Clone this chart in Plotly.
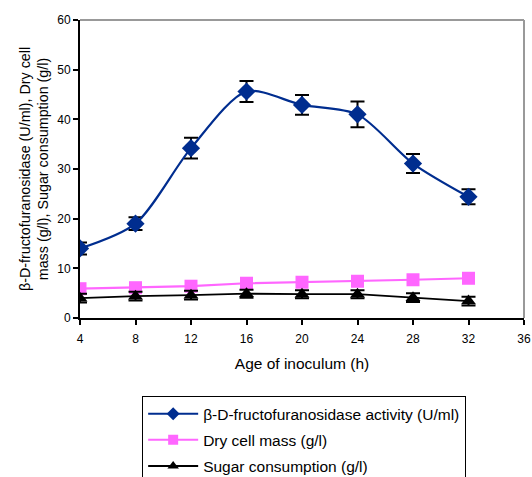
import plotly.graph_objects as go

age = [4, 8, 12, 16, 20, 24, 28, 32]
enzyme = [14.0, 19.0, 34.2, 45.6, 42.9, 41.0, 31.1, 24.4]
enzyme_err = [1.2, 1.3, 2.1, 2.1, 2.0, 2.6, 1.9, 1.5]
dry_mass = [5.9, 6.1, 6.4, 7.0, 7.2, 7.4, 7.7, 8.0]
sugar = [4.0, 4.4, 4.6, 4.9, 4.8, 4.8, 4.1, 3.4]
sugar_err = [0.9, 0.9, 0.9, 0.8, 0.8, 0.8, 0.9, 0.9]

names = ["β-D-fructofuranosidase activity (U/ml)", "Dry cell mass (g/l)", "Sugar consumption (g/l)"]
colors = ["#002D8F", "#FF66FF", "black"]
symbols = ["diamond", "square", "triangle-up"]

fig = go.Figure()
fig.add_trace(go.Scatter(
    x=age, y=enzyme, name=names[0], showlegend=False,
    mode="lines+markers", line=dict(color=colors[0], width=2.2, shape="spline", smoothing=0.8),
    marker=dict(symbol=symbols[0], size=14, color=colors[0]),
    error_y=dict(type="data", array=enzyme_err, color="black", thickness=2, width=7)))
fig.add_trace(go.Scatter(
    x=age, y=dry_mass, name=names[1], showlegend=False,
    mode="lines+markers", line=dict(color=colors[1], width=2.2),
    marker=dict(symbol=symbols[1], size=13, color=colors[1])))
fig.add_trace(go.Scatter(
    x=age, y=sugar, name=names[2], showlegend=False,
    mode="lines+markers", line=dict(color=colors[2], width=1.8),
    marker=dict(symbol=symbols[2], size=13, color=colors[2]),
    error_y=dict(type="data", array=sugar_err, color="black", thickness=2, width=7)))

# legend entries with smaller symbols
for i, (n, c, s) in enumerate(zip(names, colors, symbols)):
    fig.add_trace(go.Scatter(
        x=[None], y=[None], name=n, legendgroup=str(i), mode="lines+markers",
        line=dict(color=c, width=2), marker=dict(symbol=s, size=10, color=c)))

fig.update_layout(
    width=532, height=477,
    margin=dict(l=80, r=8, t=20, b=159, autoexpand=False),
    paper_bgcolor="white", plot_bgcolor="white",
    font=dict(family="Liberation Sans, Arial, sans-serif", size=12, color="black"),
    xaxis=dict(range=[4, 36], tickvals=[4, 8, 12, 16, 20, 24, 28, 32, 36],
               showgrid=False, zeroline=False, showline=True, linecolor="black", linewidth=2,
               ticks="outside", ticklen=5, tickwidth=2, tickcolor="black", ticklabelstandoff=4,
               title=dict(text="Age of inoculum (h)", font=dict(size=15.5), standoff=13), mirror=False),
    yaxis=dict(range=[0, 60], tickvals=[0, 10, 20, 30, 40, 50, 60],
               showgrid=False, zeroline=False, showline=True, linecolor="black", linewidth=2,
               ticks="outside", ticklen=5, tickwidth=2, tickcolor="black",
               title=dict(text="β-D-fructofuranosidase (U/ml), Dry cell<br>mass (g/l), Sugar consumption (g/l)", font=dict(size=14.3), standoff=5)),
    legend=dict(x=0.14, y=-0.262, xanchor="left", yanchor="top",
                bordercolor="black", borderwidth=1, bgcolor="white",
                tracegroupgap=3, itemwidth=50, font=dict(size=15.5)),
    shapes=[
        dict(type="line", xref="paper", yref="paper", x0=0, x1=1, y0=1, y1=1, line=dict(color="#999999", width=2)),
        dict(type="line", xref="paper", yref="paper", x0=1, x1=1, y0=0, y1=1, line=dict(color="#999999", width=2)),
    ],
)

fig.write_html("out.html")
